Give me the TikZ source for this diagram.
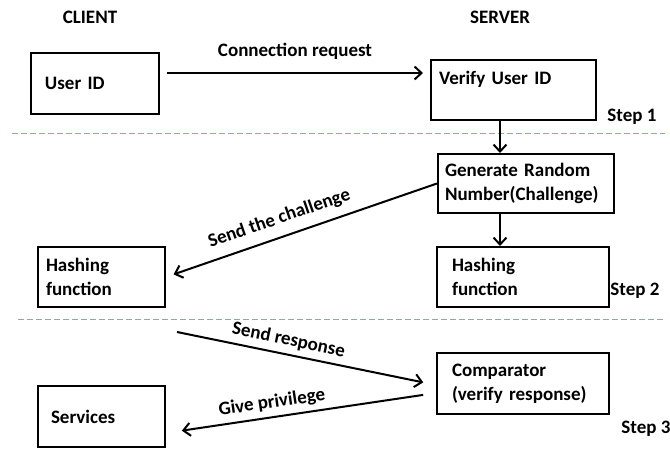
\documentclass[tikz,border=0pt]{standalone}
\usepackage{fontspec}
\setmainfont{Carlito}
\usetikzlibrary{arrows.meta}
\tikzset{
  box/.style={draw=black, line width=2pt, rectangle, align=left, anchor=north west,
    font=\fontsize{19}{24}\selectfont\bfseries, inner ysep=0pt},
  lbl/.style={font=\fontsize{19}{24}\selectfont\bfseries, inner sep=0pt},
  arr/.style={line width=2pt, -{Straight Barb[length=7pt,width=13pt,line width=2pt]}},
  sep/.style={draw={rgb,255:red,135;green,165;blue,215}, line width=1pt, dash pattern=on 6pt off 3pt}
}
\begin{document}
\begin{tikzpicture}[x=1pt,y=-1pt]
\useasboundingbox (0,0) rectangle (670,455);
% headers
\node[lbl] (client) at (90,17) {CLIENT};
\node[lbl] (server) at (500,17) {SERVER};
% boxes
\node[box, inner xsep=14pt, text width=100pt, minimum width=128pt, minimum height=61pt] (uid) at (30,52) {User ID};
\node[box, inner xsep=8pt, text width=149pt, minimum width=165pt, minimum height=60pt] (ver) at (430,59) {Verify User ID\\ \mbox{}};
\node[box, inner xsep=7pt, text width=162pt, minimum width=176pt, minimum height=59pt] (gen) at (437,153) {Generate Random\\Number(Challenge)};
\node[box, inner xsep=15pt, text width=142pt, minimum width=172pt, minimum height=60pt] (shash) at (436,246) {Hashing\\function};
\node[box, inner xsep=8pt, text width=111pt, minimum width=127pt, minimum height=60pt] (chash) at (37,246) {Hashing\\function};
\node[box, inner xsep=15pt, text width=142pt, minimum width=172pt, minimum height=61pt] (cmp) at (436,352) {Comparator\\(verify response)};
\node[box, inner xsep=13pt, text width=101pt, minimum width=127pt, minimum height=61pt] (srv) at (37,385) {Services};
% step labels
\node[lbl] (s1) at (632,117) {Step 1};
\node[lbl] (s2) at (635,291) {Step 2};
\node[lbl] (s3) at (646,429) {Step 3};
% separators
\coordinate (d1a) at (12,133);
\coordinate (d1b) at (665,133);
\coordinate (d2a) at (18,319);
\coordinate (d2b) at (665,319);
\draw[sep] (d1a) -- (d1b);
\draw[sep] (d2a) -- (d2b);
% connectors
\draw[arr, shorten <=7pt, shorten >=7pt] ([yshift=10.5pt]uid.east) -- ([yshift=10.5pt]uid.east -| ver.west)
  node[lbl, midway, above=13pt] (creq) {Connection request};
\draw[arr] ([xshift=-13.5pt]ver.south) -- ([xshift=-13.5pt]ver.south |- gen.north);
\draw[arr] ([xshift=-26pt]gen.south) -- ([xshift=-26pt]gen.south |- shash.north);
\draw[arr, shorten >=8pt] (gen.west) -- (chash.east)
  node[lbl, pos=0.56, sloped, above=9pt] (sch) {Send the challenge};
\coordinate (rs) at (177,332);
\draw[arr, shorten >=13pt] (rs) -- ([yshift=-1.5pt]cmp.west)
  node[lbl, pos=0.42, sloped, above=5pt] (sresp) {Send response};
\draw[arr, shorten <=13pt, shorten >=16pt] ([yshift=-9.5pt]cmp.west) -- ([yshift=-16.5pt]srv.east)
  node[lbl, pos=0.6, sloped, above=5pt] (gp) {Give privilege};
\end{tikzpicture}
\end{document}
